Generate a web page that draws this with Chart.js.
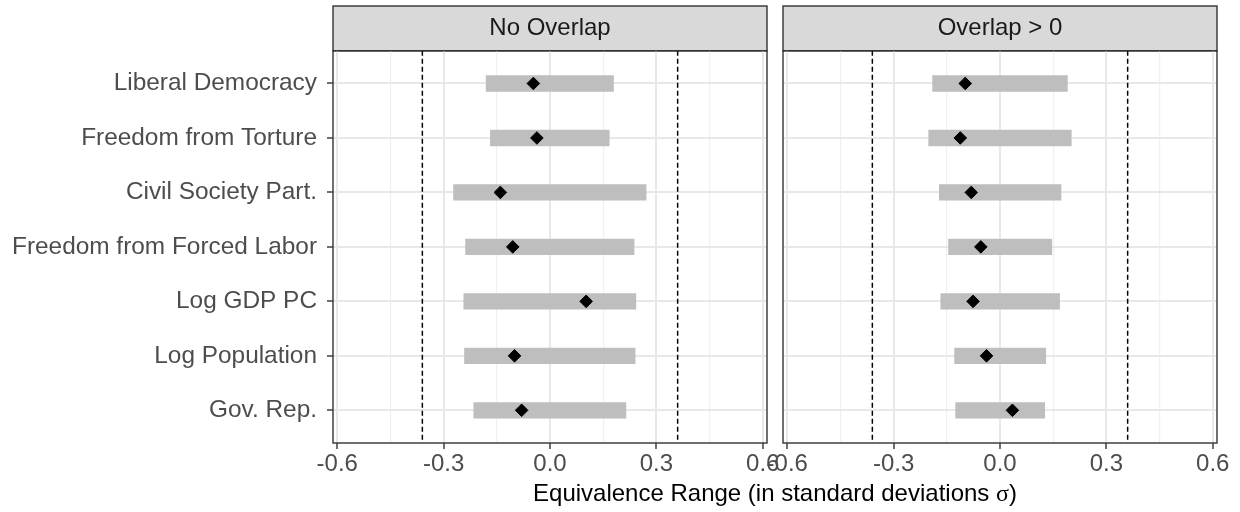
<!DOCTYPE html>
<html>
<head>
<meta charset="utf-8">
<script src="https://cdn.jsdelivr.net/npm/chart.js@4.4.1/dist/chart.umd.min.js"></script>
<style>
  html, body { margin: 0; padding: 0; background: #fff; }
  #wrap { position: relative; width: 1240px; height: 512px; overflow: hidden; }
  canvas { position: absolute; top: 0; }
  #left { left: 0; }
  #right { left: 760px; }
  #xtitle {
    position: absolute; left: 333px; width: 884px; top: 479px;
    text-align: center; color: #000;
    font: 24px "Liberation Sans", Arial, sans-serif; line-height: 28px;
  }
  #xtitle .sym { font-family: "Liberation Serif", serif; }
</style>
</head>
<body>
<div id="wrap">
  <canvas id="left" width="790" height="512"></canvas>
  <canvas id="right" width="480" height="512"></canvas>
  <div id="xtitle">Equivalence Range (in standard deviations <span class="sym">σ</span>)</div>
</div>
<script>
// covariates, listed top to bottom
const covariates = ["Liberal Democracy", "Freedom from Torture", "Civil Society Part.",
  "Freedom from Forced Labor", "Log GDP PC", "Log Population", "Gov. Rep."];

// equivalence range (low/high) and point estimate, facet "No Overlap"
const noOverlapLow  = [-0.181, -0.169, -0.273, -0.239, -0.244, -0.242, -0.216];
const noOverlapHigh = [ 0.180,  0.168,  0.272,  0.238,  0.243,  0.241,  0.215];
const noOverlapEst  = [-0.047, -0.037, -0.140, -0.105,  0.102, -0.100, -0.080];

// same for facet "Overlap > 0"
const overlapLow  = [-0.191, -0.202, -0.172, -0.146, -0.168, -0.129, -0.126];
const overlapHigh = [ 0.191,  0.202,  0.173,  0.147,  0.169,  0.130,  0.127];
const overlapEst  = [-0.098, -0.112, -0.081, -0.054, -0.076, -0.038,  0.035];

// equivalence threshold, drawn as dashed lines at +/-
const threshold = 0.36;

// x axis ticks: labelled majors, unlabelled minors
const majorTicks = [-0.6, -0.3, 0, 0.3, 0.6];
const minorTicks = [-0.45, -0.15, 0.15, 0.45];
const xLimits = [-0.612, 0.612];

Chart.defaults.font.family = '"Liberation Sans", Arial, sans-serif';

const isMajor = v => majorTicks.some(m => Math.abs(m - v) < 1e-9);

/** strip header behind the title + panel border on top of the marks */
const panelFrame = {
  id: "panelFrame",
  beforeDraw(chart) {
    const { ctx, chartArea: a } = chart;
    ctx.save();
    ctx.fillStyle = "#d9d9d9";
    ctx.fillRect(a.left, 6, a.right - a.left, a.top - 6);
    ctx.strokeStyle = "#333";
    ctx.lineWidth = 1.4;
    ctx.strokeRect(a.left, 6, a.right - a.left, a.top - 6);
    ctx.restore();
  },
  afterDatasetsDraw(chart) {
    const { ctx, chartArea: a } = chart;
    ctx.save();
    ctx.strokeStyle = "#333";
    ctx.lineWidth = 1.4;
    ctx.strokeRect(a.left, a.top, a.right - a.left, a.bottom - a.top);
    ctx.restore();
  }
};

function buildPanel(canvasId, title, low, high, est, showLabels, yWidth, rightPad) {
  const n = covariates.length;
  const guides = [-threshold, threshold].map(t => ({
    type: "line",
    data: [{ x: t, y: 0.4 }, { x: t, y: n + 0.6 }],
    borderColor: "#000",
    borderWidth: 1.5,
    borderDash: [5, 3],
    pointRadius: 0,
    order: 2,
  }));

  return new Chart(document.getElementById(canvasId), {
    type: "bar",
    data: {
      datasets: [
        {
          type: "scatter",
          data: est.map((v, i) => ({ x: v, y: i + 1 })),
          pointStyle: "rectRot",
          pointRadius: 6.3,
          backgroundColor: "#000",
          borderColor: "#000",
          borderWidth: 1,
          order: 0,
        },
        {
          type: "bar",
          indexAxis: "y",
          data: low.map((v, i) => ({ y: i + 1, x: [v, high[i]] })),
          backgroundColor: "#bebebe",
          barPercentage: 0.3,
          categoryPercentage: 1,
          order: 1,
        },
        ...guides,
      ],
    },
    options: {
      responsive: false,
      animation: false,
      devicePixelRatio: 1,
      layout: { padding: { top: 6, right: rightPad, bottom: 29, left: 0 } },
      plugins: {
        legend: { display: false },
        tooltip: { enabled: false },
        title: {
          display: true,
          text: title,
          fullSize: false,
          color: "#1a1a1a",
          font: { size: 24, weight: "normal" },
          padding: { top: 8, bottom: 8 },
        },
      },
      scales: {
        x: {
          type: "linear",
          min: xLimits[0],
          max: xLimits[1],
          offset: false,
          afterBuildTicks: s => {
            s.ticks = [...majorTicks, ...minorTicks].sort((a, b) => a - b).map(v => ({ value: v }));
          },
          afterFit: s => { s.height = 40; },
          border: { display: false },
          grid: {
            offset: false,
            color: c => (c.tick && isMajor(c.tick.value) ? "#e8e8e8" : "#f0f0f0"),
            lineWidth: c => (c.tick && isMajor(c.tick.value) ? 2 : 1.2),
            tickLength: 6,
            tickWidth: 1.4,
            tickColor: c => (c.tick && isMajor(c.tick.value) ? "#333" : "rgba(0,0,0,0)"),
          },
          ticks: {
            padding: 1,
            color: "#4d4d4d",
            font: { size: 24 },
            autoSkip: false,
            maxRotation: 0,
            minRotation: 0,
            callback: v => (isMajor(v) ? v.toFixed(1) : ""),
          },
        },
        y: {
          type: "linear",
          reverse: true,
          min: 0.4,
          max: n + 0.6,
          offset: false,
          beginAtZero: false,
          afterBuildTicks: s => {
            s.ticks = covariates.map((_, i) => ({ value: i + 1 }));
          },
          afterFit: s => { s.width = yWidth; },
          border: { display: false },
          grid: {
            offset: false,
            color: "#e8e8e8",
            lineWidth: 2,
            drawTicks: showLabels,
            tickLength: 6,
            tickWidth: 1.4,
            tickColor: "#333",
          },
          ticks: {
            display: showLabels,
            padding: 10,
            color: "#4d4d4d",
            font: { size: 24.4 },
            autoSkip: false,
            callback: (v, i) => covariates[i],
          },
        },
      },
    },
    plugins: [panelFrame],
  });
}

buildPanel("left", "No Overlap", noOverlapLow, noOverlapHigh, noOverlapEst, true, 333, 23);
buildPanel("right", "Overlap > 0", overlapLow, overlapHigh, overlapEst, false, 23, 23);
</script>
</body>
</html>
